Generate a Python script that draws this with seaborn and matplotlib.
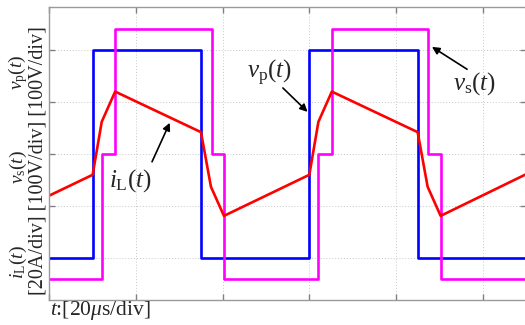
import numpy as np
import pandas as pd
import matplotlib
matplotlib.use("Agg")
import matplotlib.pyplot as plt
import seaborn as sns

# ---- waveform data (time in microseconds, voltages in V, current in A) ----
t_start, t_end = 0.0, 110.0

# primary bridge voltage v_p(t): switching instants and levels
vp_edges = [10.0, 35.0, 60.0, 85.0]
vp_levels = [-200, 200, -200, 200, -200]

# secondary bridge voltage v_s(t): three-level with zero-voltage steps
vs_edges = [12.1, 15.2, 37.5, 40.3, 62.1, 65.2, 87.5, 90.3]
vs_levels = [-241, 0, 241, 0, -241, 0, 241, 0, -241]

# inductor current i_L(t): corner points
il_time = [0.0, 10.0, 12.1, 15.2, 35.0, 37.3, 40.3, 60.0, 62.1, 65.2, 85.0, 87.3, 90.3, 110.0]
il_amps = [-16.0, -8.0, 12.4, 24.0, 8.4, -12.6, -23.8, -8.0, 12.4, 24.0, 8.4, -12.6, -23.8, -7.8]

# scope scales
t_per_div = 20.0      # us/div
v_per_div = 100.0     # V/div
i_per_div = 20.0      # A/div
center_div = 2.0      # all traces share the same zero line


def step_trace(edges, levels):
    x = np.concatenate([[t_start], np.repeat(edges, 2), [t_end]])
    y = np.repeat(levels, 2)
    return x, y


vp_x, vp_y = step_trace(vp_edges, vp_levels)
vs_x, vs_y = step_trace(vs_edges, vs_levels)

df_vp = pd.DataFrame({"t": vp_x, "y": center_div + np.asarray(vp_y) / v_per_div})
df_vs = pd.DataFrame({"t": vs_x, "y": center_div + np.asarray(vs_y) / v_per_div})
df_il = pd.DataFrame({"t": il_time, "y": center_div + np.asarray(il_amps) / i_per_div})

sns.set_style("ticks")
plt.rcParams["font.family"] = ["Liberation Serif", "DejaVu Serif"]
plt.rcParams["mathtext.fontset"] = "custom"
plt.rcParams["mathtext.rm"] = "Liberation Serif"
plt.rcParams["mathtext.it"] = "Liberation Serif:italic"
plt.rcParams["mathtext.bf"] = "Liberation Serif:bold"

W, H = 525, 325
fig = plt.figure(figsize=(W / 100, H / 100), dpi=100)
left_px, right_px, top_px, bottom_px = 49.3, 526.0, 7.0, 300.0
ax = fig.add_axes([left_px / W, (H - bottom_px) / H,
                   (right_px - left_px) / W, (bottom_px - top_px) / H])

lw = 1.9
sns.lineplot(data=df_vp, x="t", y="y", sort=False, estimator=None,
             color="#0000ff", linewidth=lw, ax=ax)
sns.lineplot(data=df_vs, x="t", y="y", sort=False, estimator=None,
             color="#ff00ff", linewidth=lw, ax=ax)
sns.lineplot(data=df_il, x="t", y="y", sort=False, estimator=None,
             color="#ff0000", linewidth=lw, ax=ax)

ax.set_xlim(t_start, t_end)
ax.set_ylim(-0.808, 4.827)
ax.set_xticks(np.arange(0, 101, t_per_div))
ax.set_yticks(np.arange(0, 5, 1))
ax.set_xticklabels([])
ax.set_yticklabels([])
ax.set_xlabel("")
ax.set_ylabel("")
ax.grid(True, color="#c8c8c8", linestyle=(0, (1, 2)), linewidth=0.7)
ax.tick_params(direction="in", length=4, width=1, color="#808080",
               top=True, right=True)
for s in ax.spines.values():
    s.set_visible(True)
    s.set_color("#9a9a9a")
    s.set_linewidth(1.0)

# trace annotations: label text and pointer arrows
arrow = dict(arrowstyle="-|>", color="black", lw=1.2, mutation_scale=11,
             shrinkA=0, shrinkB=0)
fs_ann = 18
ax.text(50.7, 3.56, r"$v_\mathrm{p}(t)$", fontsize=fs_ann, ha="center", va="center")
ax.annotate("", xy=(59.6, 2.81), xytext=(53.9, 3.27), arrowprops=arrow)
ax.text(98.2, 3.35, r"$v_\mathrm{s}(t)$", fontsize=fs_ann, ha="center", va="center")
ax.annotate("", xy=(88.3, 4.06), xytext=(96.4, 3.63), arrowprops=arrow)
ax.text(18.6, 1.48, r"$i_\mathrm{L}(t)$", fontsize=fs_ann, ha="center", va="center")
ax.annotate("", xy=(27.8, 2.60), xytext=(23.7, 1.85), arrowprops=arrow)

# channel scale labels
fs_lab = 14.5
def fx(px):
    return px / W
def fy(py):
    return (H - py) / H

fig.text(fx(18), fy(72), r"$v_\mathrm{p}(t)$", rotation=90, ha="center", va="center", fontsize=14)
fig.text(fx(18), fy(167), r"$v_\mathrm{s}(t)$", rotation=90, ha="center", va="center", fontsize=14)
fig.text(fx(18), fy(262), r"$i_\mathrm{L}(t)$", rotation=90, ha="center", va="center", fontsize=14)
fig.text(fx(38), fy(161), "[20A/div] [100V/div] [100V/div]", rotation=90,
         ha="center", va="center", fontsize=fs_lab)
fig.text(fx(50), fy(311), r"$t$:[20$\mu$s/div]", ha="left", va="center", fontsize=15.5)

fig.savefig("out.png", dpi=100)
